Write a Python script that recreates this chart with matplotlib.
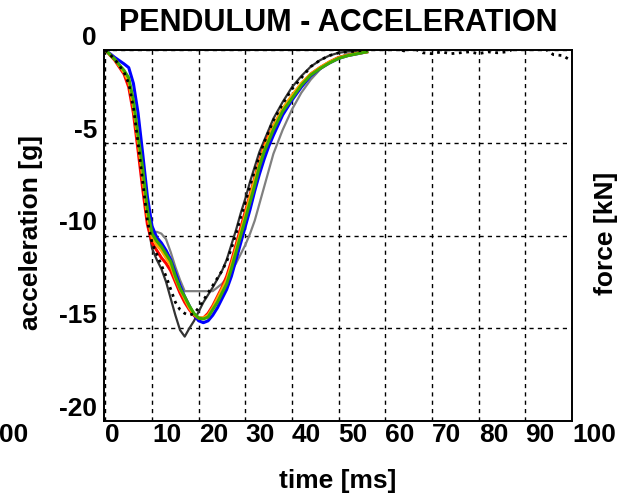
import numpy as np
import matplotlib.pyplot as plt

plt.rcParams['font.family'] = ['Liberation Sans', 'DejaVu Sans']
plt.rcParams['font.weight'] = 'bold'

# time [ms] shared by the test curves
t = [0, 2, 4, 5, 6, 7, 8, 9, 10, 11, 12, 13, 14, 15, 16, 17, 18, 19, 20, 21, 22,
     23, 24, 25, 26, 27, 28, 29, 30, 31, 32, 33, 34, 35, 36, 38, 40, 42, 44, 46,
     48, 50, 52, 54, 56]

acc_gray = [0, -0.5, -1.2, -1.8, -3.0, -4.9, -7.0, -8.9, -9.9, -9.8, -9.9, -10.2,
            -10.9, -11.7, -12.4, -13.0, -13.0, -13.0, -13.0, -13.0, -13.0, -13.0,
            -12.8, -12.6, -12.3, -11.9, -11.5, -11.0, -10.5, -9.9, -9.2, -8.3, -7.4,
            -6.5, -5.6, -4.3, -3.2, -2.3, -1.6, -1.05, -0.65, -0.4, -0.22, -0.12, -0.05]
acc_dark = [0, -0.5, -1.2, -1.8, -3.0, -4.9, -7.0, -9.2, -10.7, -11.3, -11.8, -12.5,
            -13.4, -14.3, -15.1, -15.45, -15.0, -14.6, -14.1, -13.6, -13.2, -12.8,
            -12.35, -11.9, -11.3, -10.5, -9.7, -8.8, -8.0, -7.1, -6.3, -5.5, -4.9,
            -4.3, -3.7, -2.8, -2.0, -1.4, -0.9, -0.55, -0.3, -0.15, -0.08, -0.04, 0.0]
acc_blue = [0, -0.4, -0.75, -0.95, -1.8, -3.4, -5.6, -7.9, -9.5, -10.1, -10.4, -10.8,
            -11.3, -12.0, -12.7, -13.3, -13.8, -14.3, -14.6, -14.7, -14.6, -14.3,
            -13.9, -13.4, -12.9, -12.2, -11.3, -10.4, -9.5, -8.6, -7.6, -6.7, -5.9,
            -5.2, -4.6, -3.5, -2.7, -2.0, -1.4, -1.0, -0.7, -0.45, -0.3, -0.2, -0.1]
acc_red = [0, -0.55, -1.3, -2.0, -3.4, -5.4, -7.5, -9.4, -10.4, -10.8, -11.2, -11.5,
           -11.9, -12.5, -13.1, -13.6, -14.0, -14.3, -14.45, -14.45, -14.2, -13.8,
           -13.3, -12.8, -12.2, -11.4, -10.5, -9.6, -8.7, -7.8, -6.9, -6.0, -5.2,
           -4.6, -4.1, -3.2, -2.5, -1.85, -1.3, -0.95, -0.65, -0.4, -0.28, -0.18, -0.1]
acc_orange = [0, -0.5, -1.2, -1.7, -3.0, -4.9, -6.8, -8.9, -10.1, -10.5, -10.8, -11.2,
              -11.6, -12.3, -12.9, -13.4, -13.9, -14.25, -14.45, -14.45, -14.3, -13.9,
              -13.4, -12.9, -12.4, -11.6, -10.7, -9.8, -8.9, -7.9, -7.0, -6.1, -5.3,
              -4.7, -4.1, -3.15, -2.45, -1.8, -1.3, -0.95, -0.65, -0.42, -0.28, -0.18, -0.1]
acc_green = [0, -0.5, -1.1, -1.5, -2.7, -4.6, -6.4, -8.6, -9.9, -10.3, -10.6, -11.0,
             -11.4, -12.2, -12.85, -13.3, -13.8, -14.2, -14.45, -14.5, -14.4, -14.0,
             -13.6, -13.1, -12.6, -11.8, -10.9, -10.0, -9.1, -8.2, -7.3, -6.3, -5.5,
             -4.9, -4.3, -3.3, -2.6, -1.9, -1.35, -1.0, -0.7, -0.45, -0.3, -0.2, -0.1]

# dotted reference curve runs over the whole time window
t_ref = t + [58, 60, 62, 64, 66, 68, 70, 72, 74, 76, 78, 80, 82, 84, 86, 88, 90,
             92, 94, 96, 98, 100]
acc_ref = [0, -0.5, -1.2, -1.8, -3.1, -5.0, -7.1, -9.2, -10.4, -11.0, -11.6, -12.2,
           -12.9, -13.6, -14.0, -14.2, -14.3, -14.2, -13.9, -13.5, -13.1, -12.7,
           -12.3, -11.9, -11.4, -10.7, -9.9, -9.0, -8.2, -7.3, -6.5, -5.7, -5.0,
           -4.4, -3.8, -2.9, -2.1, -1.5, -0.9, -0.55, -0.3, -0.15, -0.1, -0.05, 0.0,
           0.1, 0.05, 0.1, -0.05, 0.1, -0.15, -0.2, -0.1, -0.2, -0.15, -0.1, -0.2,
           -0.1, -0.15, -0.1, 0.1, 0.05, 0.1, 0.1, -0.25, -0.3, -0.6]

xticks = np.arange(0, 101, 10)
yticks = [0, -5, -10, -15, -20]

fig = plt.figure(figsize=(6.19, 4.99), dpi=100)
ax = fig.add_axes([104/619, 1-421/499, 468/619, 371/499])

ax.plot(t, acc_gray, color='#808080', lw=1.6)
ax.plot(t, acc_dark, color='#333333', lw=1.6)
ax.plot(t, acc_blue, color='#0000ff', lw=2.2)
ax.plot(t, acc_red, color='#ff0000', lw=2.2)
ax.plot(t, acc_orange, color='#ffa500', lw=2.2)
ax.plot(t, acc_green, color='#3cab00', lw=2.2)
ax.plot(t_ref, acc_ref, color='black', lw=2.0, linestyle=':')

ax.set_xlim(-0.3, 100)
ax.set_ylim(-20, 0)
ax.set_xticks(xticks)
ax.set_yticks(yticks)
ax.set_xticklabels([str(v) for v in xticks])
ax.set_yticklabels([str(v) for v in yticks])
ax.tick_params(length=0, labelsize=19)
ax.tick_params(axis='x', pad=1.5)
ax.tick_params(axis='y', pad=5)
for lbl in ax.get_xticklabels():
    lbl.set_ha('left')
for lbl in ax.get_yticklabels():
    lbl.set_va('bottom')

ax.grid(True, color='black', linestyle=(0, (3, 3)), linewidth=1.0)
for s in ax.spines.values():
    s.set_linewidth(1.4)

ax.set_title('PENDULUM - ACCELERATION', fontsize=22, fontweight='bold', pad=14)
fig.text(31/619, 1-233/499, 'acceleration [g]', rotation=90, ha='center',
         va='center', fontsize=19, fontweight='bold')
fig.text(338/619, 1-481/499, 'time [ms]', ha='center', va='center',
         fontsize=19, fontweight='bold')

# pieces of the neighbouring panels at the crop edges
fig.text(618/619, 1-233/499, 'force [kN]', rotation=90, ha='right', va='center',
         fontsize=19, fontweight='bold')
fig.text(-1/619, 1-423/499, '00', ha='left', va='top', fontsize=19, fontweight='bold')

fig.savefig('out.png', dpi=100)
